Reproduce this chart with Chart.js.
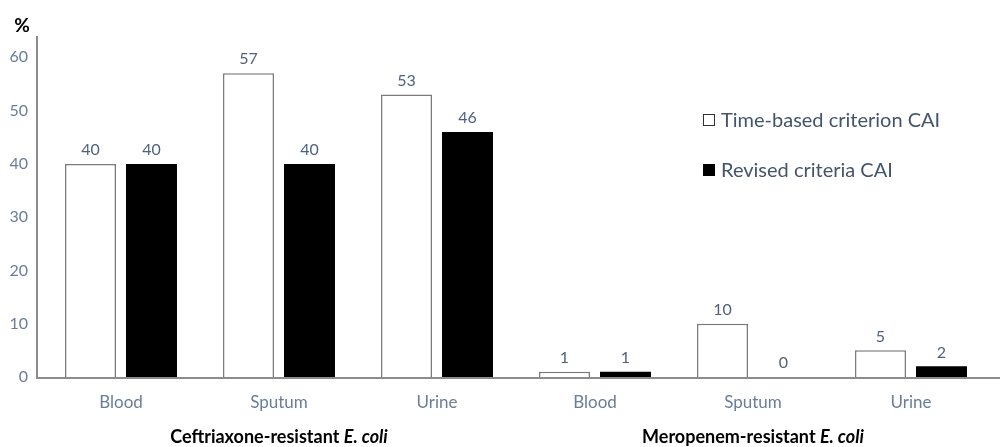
<!DOCTYPE html>
<html>
<head>
<meta charset="utf-8">
<script src="https://cdn.jsdelivr.net/npm/chart.js@4.4.0/dist/chart.umd.min.js"></script>
<style>
  html, body { margin: 0; padding: 0; background: #fff; }
  #wrap { width: 1000px; height: 447px; }
</style>
</head>
<body>
<div id="wrap"><canvas id="chart"></canvas></div>
<script>
// data
const categories = ['Blood', 'Sputum', 'Urine', 'Blood', 'Sputum', 'Urine'];
const groupLabels = ['Ceftriaxone-resistant', 'Meropenem-resistant'];
const timeBased = [40, 57, 53, 1, 10, 5];
const revised = [40, 40, 46, 1, 0, 2];
const seriesNames = ['Time-based criterion CAI', 'Revised criteria CAI'];
const yTicks = [0, 10, 20, 30, 40, 50, 60];

const FONT = 'Lato, "Open Sans", sans-serif';
const TICK_COLOR = '#6a7d99';
const LABEL_COLOR = '#4f6180';
const AXIS_COLOR = '#8c8c8c';

// value labels over the bars
const valueLabels = {
    id: 'valueLabels',
    afterDatasetsDraw(chart) {
        const ctx = chart.ctx;
        ctx.save();
        ctx.font = '16px ' + FONT;
        ctx.fillStyle = LABEL_COLOR;
        ctx.textAlign = 'center';
        ctx.textBaseline = 'bottom';
        chart.data.datasets.forEach((ds, i) => {
            chart.getDatasetMeta(i).data.forEach((bar, j) => {
                ctx.fillText(String(ds.data[j]), bar.x, bar.y - 6);
            });
        });
        ctx.restore();
    }
};

// axis lines, legend, % sign and group titles
const extras = {
    id: 'extras',
    afterDraw(chart) {
        const ctx = chart.ctx;
        const x = chart.scales.x;
        const area = chart.chartArea;
        ctx.save();

        // axis lines (the y line sits a little left of the first category)
        ctx.strokeStyle = AXIS_COLOR;
        ctx.lineWidth = 2;
        ctx.beginPath();
        ctx.moveTo(37, area.top);
        ctx.lineTo(37, area.bottom + 1);
        ctx.lineTo(1000, area.bottom + 1);
        ctx.stroke();

        // % label
        ctx.font = 'bold 19px ' + FONT;
        ctx.fillStyle = '#000';
        ctx.textAlign = 'center';
        ctx.textBaseline = 'middle';
        ctx.fillText('%', 22, 26);

        // legend
        const boxes = [
            { fill: '#fff', stroke: '#333' },
            { fill: '#000', stroke: '#000' }
        ];
        ctx.font = '20px ' + FONT;
        ctx.textAlign = 'left';
        seriesNames.forEach((name, i) => {
            const y = 120 + i * 50;
            ctx.fillStyle = boxes[i].fill;
            ctx.strokeStyle = boxes[i].stroke;
            ctx.lineWidth = 1;
            ctx.fillRect(703.5, y - 5.5, 11, 11);
            ctx.strokeRect(703.5, y - 5.5, 11, 11);
            ctx.fillStyle = '#44546a';
            ctx.fillText(name, 721, y + 1);
        });

        // group titles under the categories
        groupLabels.forEach((g, i) => {
            const cx = x.getPixelForValue(i * 3 + 1);
            const part1 = g + ' ';
            const part2 = 'E. coli';
            ctx.font = 'bold 18px ' + FONT;
            const w1 = ctx.measureText(part1).width;
            ctx.font = 'bold italic 18px ' + FONT;
            const w2 = ctx.measureText(part2).width;
            const start = cx - (w1 + w2) / 2;
            ctx.fillStyle = '#000';
            ctx.textAlign = 'left';
            ctx.font = 'bold 18px ' + FONT;
            ctx.fillText(part1, start, 437);
            ctx.font = 'bold italic 18px ' + FONT;
            ctx.fillText(part2, start + w1, 437);
        });
        ctx.restore();
    }
};

new Chart(document.getElementById('chart'), {
    type: 'bar',
    data: {
        labels: categories,
        datasets: [
            {
                label: seriesNames[0],
                data: timeBased,
                backgroundColor: '#fff',
                borderColor: '#7a7a7a',
                borderWidth: 1.5,
                borderSkipped: 'bottom',
                categoryPercentage: 0.772,
                barPercentage: 0.836
            },
            {
                label: seriesNames[1],
                data: revised,
                backgroundColor: '#000',
                borderWidth: 0,
                categoryPercentage: 0.772,
                barPercentage: 0.836
            }
        ]
    },
    options: {
        responsive: true,
        maintainAspectRatio: false,
        animation: false,
        layout: { padding: { top: 36, right: 10, left: 0, bottom: 0 } },
        plugins: {
            legend: { display: false },
            tooltip: { enabled: false }
        },
        scales: {
            x: {
                grid: { display: false, drawTicks: false },
                border: { display: false },
                ticks: {
                    color: TICK_COLOR,
                    font: { family: FONT, size: 17 },
                    padding: 15
                },
                afterFit(scale) { scale.height = 70; }
            },
            y: {
                min: 0,
                max: 64,
                grid: { display: false, drawTicks: false },
                border: { display: false },
                ticks: {
                    stepSize: 10,
                    color: TICK_COLOR,
                    font: { family: FONT, size: 16 },
                    padding: 14
                },
                afterBuildTicks(scale) {
                    scale.ticks = yTicks.map(v => ({ value: v }));
                },
                afterFit(scale) { scale.width = 42; }
            }
        }
    },
    plugins: [valueLabels, extras]
});
</script>
</body>
</html>
